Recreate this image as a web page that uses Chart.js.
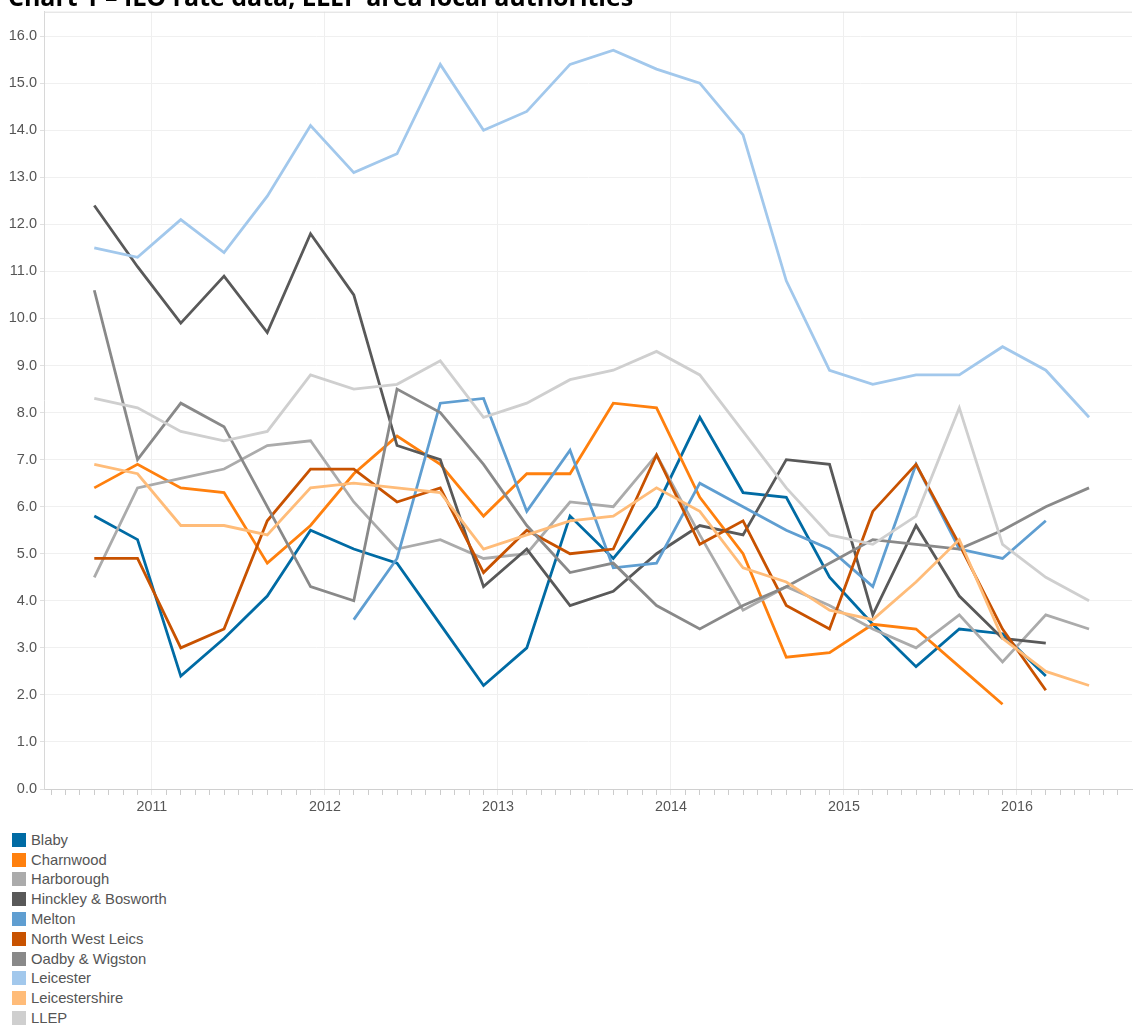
<!DOCTYPE html>
<html>
<head>
<meta charset="utf-8">
<script src="https://cdn.jsdelivr.net/npm/chart.js@4/dist/chart.umd.min.js"></script>
<style>
  body { margin: 0; background: #fff; width: 1133px; height: 1025px; overflow: hidden; position: relative; font-family: "Liberation Sans", Arial, sans-serif; }
  #title { position: absolute; left: 8px; top: -16px; font: bold 25px/25px "Open Sans", "Liberation Sans", sans-serif; color: #000; white-space: nowrap; z-index: 2; }
  #wrap { position: absolute; left: 0; top: 0; width: 1133px; height: 820px; }
  #legend { position: absolute; left: 12px; top: 830px; }
  .item { height: 19.8px; display: flex; align-items: center; font-size: 14.8px; color: #555; }
  .sw { width: 14px; height: 14px; margin-right: 5px; }
</style>
</head>
<body>
<div id="title">Chart 1 – ILO rate data, LLEP area local authorities</div>
<div id="wrap"><canvas id="chart" width="1133" height="820"></canvas></div>
<div id="legend"></div>
<script>
// quarterly periods (year-month)
const quarters = [
  '2010-09', '2010-12', '2011-03', '2011-06', '2011-09', '2011-12',
  '2012-03', '2012-06', '2012-09', '2012-12', '2013-03', '2013-06',
  '2013-09', '2013-12', '2014-03', '2014-06', '2014-09', '2014-12',
  '2015-03', '2015-06', '2015-09', '2015-12', '2016-03', '2016-06'
];
const yearTicks = [2011, 2012, 2013, 2014, 2015, 2016];

const blaby = [5.8, 5.3, 2.4, 3.2, 4.1, 5.5, 5.1, 4.8, 3.5, 2.2, 3.0, 5.8, 4.9, 6.0, 7.9, 6.3, 6.2, 4.5, 3.5, 2.6, 3.4, 3.3, 2.4, null];
const charnwood = [6.4, 6.9, 6.4, 6.3, 4.8, 5.6, 6.7, 7.5, 6.9, 5.8, 6.7, 6.7, 8.2, 8.1, 6.2, 5.0, 2.8, 2.9, 3.5, 3.4, 2.6, 1.8, null, null];
const harborough = [4.5, 6.4, 6.6, 6.8, 7.3, 7.4, 6.1, 5.1, 5.3, 4.9, 5.0, 6.1, 6.0, 7.1, 5.4, 3.8, 4.3, 3.9, 3.4, 3.0, 3.7, 2.7, 3.7, 3.4];
const hinckley = [12.4, 11.1, 9.9, 10.9, 9.7, 11.8, 10.5, 7.3, 7.0, 4.3, 5.1, 3.9, 4.2, 5.0, 5.6, 5.4, 7.0, 6.9, 3.7, 5.6, 4.1, 3.2, 3.1, null];
const melton = [null, null, null, null, null, null, 3.6, 4.9, 8.2, 8.3, 5.9, 7.2, 4.7, 4.8, 6.5, 6.0, 5.5, 5.1, 4.3, 6.9, 5.1, 4.9, 5.7, null];
const nwLeics = [4.9, 4.9, 3.0, 3.4, 5.7, 6.8, 6.8, 6.1, 6.4, 4.6, 5.5, 5.0, 5.1, 7.1, 5.2, 5.7, 3.9, 3.4, 5.9, 6.9, 5.2, 3.4, 2.1, null];
const oadby = [10.6, 7.0, 8.2, 7.7, 6.0, 4.3, 4.0, 8.5, 8.0, 6.9, 5.6, 4.6, 4.8, 3.9, 3.4, 3.9, 4.3, 4.8, 5.3, 5.2, 5.1, 5.5, 6.0, 6.4];
const leicester = [11.5, 11.3, 12.1, 11.4, 12.6, 14.1, 13.1, 13.5, 15.4, 14.0, 14.4, 15.4, 15.7, 15.3, 15.0, 13.9, 10.8, 8.9, 8.6, 8.8, 8.8, 9.4, 8.9, 7.9];
const leicestershire = [6.9, 6.7, 5.6, 5.6, 5.4, 6.4, 6.5, 6.4, 6.3, 5.1, 5.4, 5.7, 5.8, 6.4, 5.9, 4.7, 4.4, 3.8, 3.6, 4.4, 5.3, 3.2, 2.5, 2.2];
const llep = [8.3, 8.1, 7.6, 7.4, 7.6, 8.8, 8.5, 8.6, 9.1, 7.9, 8.2, 8.7, 8.9, 9.3, 8.8, 7.6, 6.4, 5.4, 5.2, 5.8, 8.1, 5.2, 4.5, 4.0];

const seriesNames = ['Blaby', 'Charnwood', 'Harborough', 'Hinckley & Bosworth', 'Melton',
  'North West Leics', 'Oadby & Wigston', 'Leicester', 'Leicestershire', 'LLEP'];
const seriesData = [blaby, charnwood, harborough, hinckley, melton, nwLeics, oadby, leicester, leicestershire, llep];
const seriesColors = ['#006ba4', '#ff800e', '#ababab', '#595959', '#5f9ed1',
  '#c85200', '#898989', '#a2c8ec', '#ffbc79', '#cfcfcf'];

// decimal year for each quarter label
const xVals = quarters.map(q => {
  const [y, m] = q.split('-').map(Number);
  return y + (m - 1) / 12;
});

const datasets = seriesNames.map((name, i) => ({
  label: name,
  data: seriesData[i].map((v, j) => ({ x: xVals[j], y: v })),
  borderColor: seriesColors[i],
  backgroundColor: seriesColors[i],
  borderWidth: 2.8,
  pointRadius: 0,
  tension: 0,
  spanGaps: false,
  order: 10 - i
}));

const isYear = v => yearTicks.includes(Math.round(v * 1000) / 1000);

const frameTop = {
  id: 'frameTop',
  afterDraw(chart) {
    const { ctx, chartArea } = chart;
    ctx.save();
    ctx.strokeStyle = '#dcdcdc';
    ctx.lineWidth = 1;
    ctx.beginPath();
    ctx.moveTo(chartArea.left, chartArea.top + 0.5);
    ctx.lineTo(chartArea.right, chartArea.top + 0.5);
    ctx.stroke();
    ctx.restore();
  }
};

new Chart(document.getElementById('chart'), {
  type: 'line',
  data: { datasets },
  options: {
    responsive: false,
    animation: false,
    layout: { padding: { top: 10, right: 1, left: 0, bottom: 0 } },
    plugins: { legend: { display: false }, tooltip: { enabled: false } },
    scales: {
      x: {
        type: 'linear',
        min: 2010.376,
        max: 2016.665,
        afterFit: s => { s.height = 31; },
        afterBuildTicks: s => {
          // yearly labels plus monthly minor tick marks
          const t = [];
          for (let y = 2010; y <= 2016; y++) {
            for (let m = 0; m < 12; m++) {
              const v = y + m / 12;
              if (v >= s.min && v <= s.max) t.push({ value: v });
            }
          }
          s.ticks = t;
        },
        ticks: {
          autoSkip: false,
          maxRotation: 0,
          padding: 3,
          color: '#555',
          font: { family: '"Liberation Sans", Arial, sans-serif', size: 14.3 },
          callback: v => (isYear(v) ? String(Math.round(v)) : '')
        },
        grid: {
          color: c => (c.tick && isYear(c.tick.value) ? '#efefef' : 'rgba(0,0,0,0)'),
          tickColor: c => (c.tick && isYear(c.tick.value) ? '#e6e6e6' : '#cccccc'),
          tickLength: 6,
          drawTicks: true
        },
        border: { color: '#d0d0d0', width: 1 }
      },
      y: {
        min: 0,
        max: 16.52,
        afterFit: s => { s.width = 44; },
        afterBuildTicks: s => { s.ticks = s.ticks.filter(t => Number.isInteger(t.value)); },
        ticks: {
          stepSize: 1,
          padding: 3,
          color: '#555',
          font: { family: '"Liberation Sans", Arial, sans-serif', size: 14.5 },
          callback: v => v.toFixed(1)
        },
        grid: { color: '#f0f0f0', tickColor: '#e0e0e0', tickLength: 4 },
        border: { color: '#d8d8d8', width: 1 }
      }
    }
  },
  plugins: [frameTop]
});

// legend below the chart
const legend = document.getElementById('legend');
seriesNames.forEach((name, i) => {
  const row = document.createElement('div');
  row.className = 'item';
  row.innerHTML = '<span class="sw" style="background:' + seriesColors[i] + '"></span>' + name;
  legend.appendChild(row);
});
</script>
</body>
</html>
